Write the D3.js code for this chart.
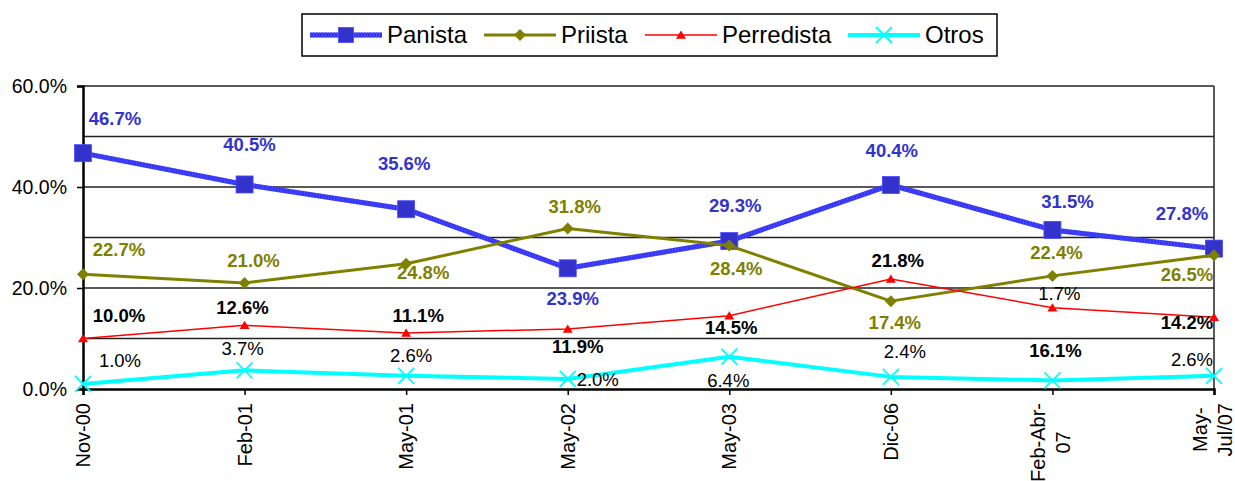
<!DOCTYPE html>
<html>
<head>
<meta charset="utf-8">
<script src="https://cdn.jsdelivr.net/npm/d3@7"></script>
<style>
  html, body { margin: 0; padding: 0; background: #fff; }
  svg { display: block; font-family: "Liberation Sans", Arial, sans-serif; }
</style>
</head>
<body>
<svg id="chart" width="1235" height="481"></svg>
<script>
// ---- data ----
const categories = ["Nov-00", "Feb-01", "May-01", "May-02", "May-03", "Dic-06", "Feb-Abr-\n07", "May-\nJul/07"];
const seriesNames = ["Panista", "Priista", "Perredista", "Otros"];
const panista    = [46.7, 40.5, 35.6, 23.9, 29.3, 40.4, 31.5, 27.8];
const priista    = [22.7, 21.0, 24.8, 31.8, 28.4, 17.4, 22.4, 26.5];
const perredista = [10.0, 12.6, 11.1, 11.9, 14.5, 21.8, 16.1, 14.2];
const otros      = [1.0, 3.7, 2.6, 2.0, 6.4, 2.4, 1.7, 2.6];
const yTicks     = [0, 20, 40, 60];
const yGrid      = [10, 20, 30, 40, 50, 60];

// ---- styling (label offsets are positions, kept apart from data) ----
const styles = [
  { name: seriesNames[0], values: panista,    line: "#3232F2", lineW: 5,   marker: "square",   color: "#3333CC", size: 17, label: "#3333CC", bold: true },
  { name: seriesNames[1], values: priista,    line: "#808000", lineW: 3,   marker: "diamond",  color: "#808000", size: 12, label: "#808000", bold: true },
  { name: seriesNames[2], values: perredista, line: "#FF0000", lineW: 1.5, marker: "triangle", color: "#FF0000", size: 10, label: "#000000", bold: true },
  { name: seriesNames[3], values: otros,      line: "#00FFFF", lineW: 4,   marker: "x",        color: "#00FFFF", size: 16, label: "#000000", bold: false }
];
const labelOffsets = [
  [[32,-28],[5,-33],[-2,-39],[5,37],[6,-29],[1,-28],[15,-22],[-32,-29]],
  [[36,-18],[9,-16],[17,15],[7,-15],[7,29],[4,28],[4,-17],[-27,26]],
  [[36,-17],[-2,-11],[12,-11],[10,24],[2,18],[7,-12],[3,49],[-27,12]],
  [[37,-17],[-2,-15],[5,-14],[30,7],[-1,30],[14,-19],[7,-80],[-22,-10]]
];

const margin = { left: 83, top: 86, right: 21, bottom: 92 };
const W = 1235, H = 481;
const svg = d3.select("#chart");
const x = d3.scalePoint().domain(categories).range([margin.left, W - margin.right]).padding(0);
const y = d3.scaleLinear().domain([0, 60]).range([H - margin.bottom, margin.top]);

// gridlines
svg.append("g").selectAll("line").data(yGrid).join("line")
  .attr("x1", margin.left).attr("x2", W - margin.right)
  .attr("y1", d => y(d)).attr("y2", d => y(d))
  .attr("stroke", "#222").attr("stroke-width", 1.5);
// right border
svg.append("line").attr("x1", W - margin.right).attr("x2", W - margin.right)
  .attr("y1", y(60)).attr("y2", y(0)).attr("stroke", "#222").attr("stroke-width", 1.5);

// y axis
const yAxis = d3.axisLeft(y).tickValues(yTicks).tickSize(6).tickPadding(10)
  .tickFormat(d => d.toFixed(1) + "%");
const gy = svg.append("g").attr("transform", `translate(${margin.left},0)`).call(yAxis);
gy.select(".domain").attr("stroke", "#000").attr("stroke-width", 2.5);
gy.selectAll(".tick line").attr("stroke", "#000").attr("stroke-width", 1.5);
gy.selectAll(".tick text").attr("font-size", 19.5).attr("fill", "#000")
  .attr("font-family", "Liberation Sans, Arial, sans-serif");

// x axis
const xAxis = d3.axisBottom(x).tickSize(6).tickFormat("");
const gx = svg.append("g").attr("transform", `translate(0,${y(0)})`).call(xAxis);
gx.select(".domain").attr("stroke", "#000").attr("stroke-width", 2.5);
gx.selectAll(".tick line").attr("stroke", "#000").attr("stroke-width", 1.5);

// x labels (rotated, multi-line, centered lines)
const xl = svg.append("g");
categories.forEach(cat => {
  const lines = cat.split("\n");
  const cx = x(cat);
  const lh = 25;
  const g = xl.append("g");
  const texts = lines.map((ln, i) => g.append("text").text(ln)
    .attr("font-size", 20).attr("fill", "#000").attr("text-anchor", "middle"));
  const maxLen = d3.max(texts, t => t.node().getComputedTextLength());
  const top = y(0) + 14;
  const yc = top + maxLen / 2;
  texts.forEach((t, i) => {
    const xc = cx + (i - (lines.length - 1) / 2) * lh - (lines.length > 1 ? 2 : 0);
    t.attr("transform", `translate(${xc + 7},${yc}) rotate(-90)`);
  });
});

// symbols
function drawMarker(g, type, size, color) {
  const s = size / 2;
  if (type === "square") {
    g.append("rect").attr("x", -s).attr("y", -s).attr("width", size).attr("height", size)
      .attr("fill", color).attr("stroke", "#4a4aff").attr("stroke-width", 0.8);
  } else if (type === "diamond") {
    g.append("path").attr("d", `M0,${-s}L${s},0L0,${s}L${-s},0Z`).attr("fill", color);
  } else if (type === "triangle") {
    g.append("path").attr("d", `M0,${-s*0.9}L${s},${s*0.75}L${-s},${s*0.75}Z`).attr("fill", color);
  } else if (type === "x") {
    g.append("path").attr("d", `M${-s},${-s}L${s},${s}M${-s},${s}L${s},${-s}`)
      .attr("stroke", color).attr("stroke-width", 1.8).attr("fill", "none");
  }
}

const lineGen = d3.line().x((d, i) => x(categories[i])).y(d => y(d));

styles.forEach((st, si) => {
  const g = svg.append("g");
  g.append("path").datum(st.values).attr("d", lineGen)
    .attr("fill", "none").attr("stroke", st.line).attr("stroke-width", st.lineW)
    .attr("stroke-linejoin", "round");
  if (st.marker === "square") {
    g.append("path").datum(st.values).attr("d", lineGen)
      .attr("fill", "none").attr("stroke", "#5050FF").attr("stroke-width", st.lineW)
      .attr("stroke-dasharray", "1,2");
  }
  st.values.forEach((v, i) => {
    const m = g.append("g").attr("transform", `translate(${x(categories[i])},${y(v)})`);
    drawMarker(m, st.marker, st.size, st.color);
  });
});

// data labels
styles.forEach((st, si) => {
  svg.append("g").selectAll("text").data(st.values).join("text")
    .attr("x", (d, i) => x(categories[i]) + labelOffsets[si][i][0])
    .attr("y", (d, i) => y(d) + labelOffsets[si][i][1])
    .attr("text-anchor", "middle")
    .attr("font-size", 18.5)
    .attr("font-weight", st.bold ? "bold" : "normal")
    .attr("fill", st.label)
    .text(d => d.toFixed(1) + "%");
});

// legend
const legend = svg.append("g");
legend.append("rect").attr("x", 302).attr("y", 14).attr("width", 695).attr("height", 42)
  .attr("fill", "#fff").attr("stroke", "#000").attr("stroke-width", 1.5);
const legendX = [310, 484, 645, 848];
styles.forEach((st, i) => {
  const lx = legendX[i], ly = 35;
  const g = legend.append("g");
  g.append("line").attr("x1", lx).attr("x2", lx + 72).attr("y1", ly).attr("y2", ly)
    .attr("stroke", st.line).attr("stroke-width", st.lineW);
  if (st.marker === "square") {
    g.append("line").attr("x1", lx).attr("x2", lx + 72).attr("y1", ly).attr("y2", ly)
      .attr("stroke", "#5050FF").attr("stroke-width", st.lineW).attr("stroke-dasharray", "1,2");
  }
  const m = g.append("g").attr("transform", `translate(${lx + 36},${ly})`);
  drawMarker(m, st.marker, st.marker === "square" ? 15 : st.size, st.color);
  g.append("text").attr("x", lx + 77).attr("y", ly + 8).attr("font-size", 24).attr("fill", "#000")
    .text(st.name);
});
</script>
</body>
</html>
